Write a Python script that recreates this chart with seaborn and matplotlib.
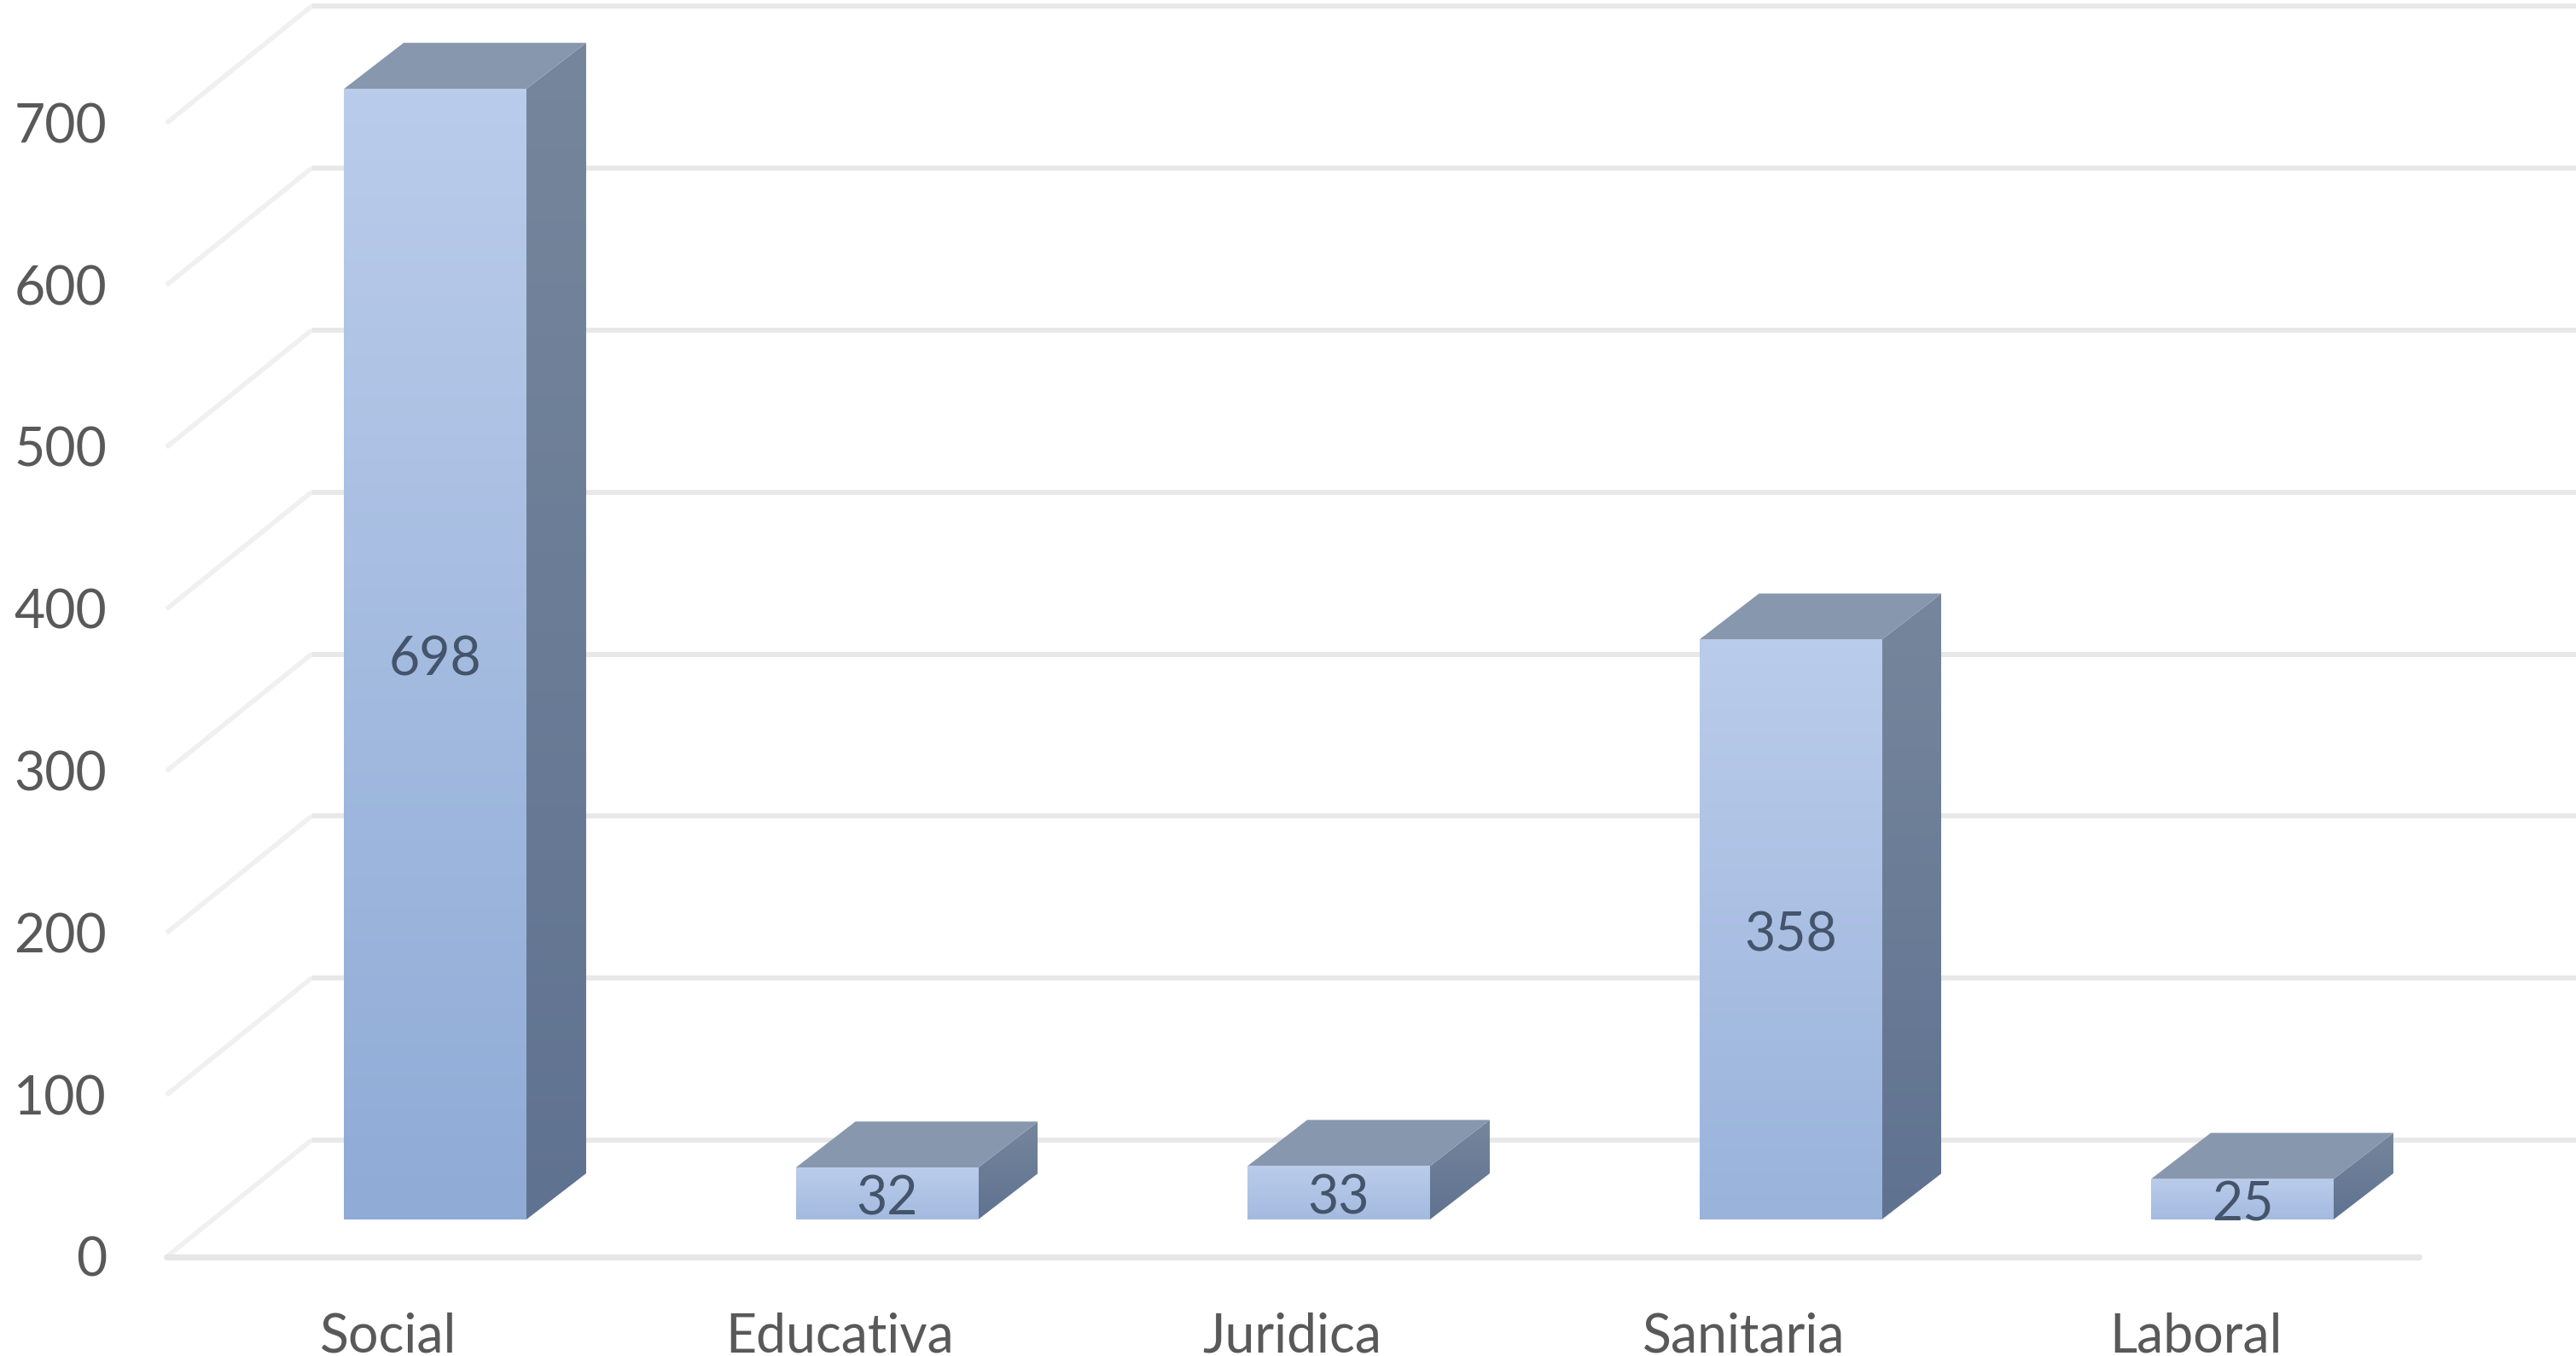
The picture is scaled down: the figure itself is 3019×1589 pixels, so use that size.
import matplotlib
matplotlib.use('Agg')
import matplotlib.pyplot as plt
import numpy as np
import pandas as pd
import seaborn as sns
from matplotlib.colors import LinearSegmentedColormap
from matplotlib.patches import Polygon

categories = ['Social', 'Educativa', 'Juridica', 'Sanitaria', 'Laboral']
values = [698, 32, 33, 358, 25]
y_ticks = [0, 100, 200, 300, 400, 500, 600, 700, 800]
y_tick_labels = ['0', '100', '200', '300', '400', '500', '600', '700']

sns.set_style('white')
plt.rcParams['font.family'] = ['Lato', 'DejaVu Sans']

W, H = 3019, 1589
fig = plt.figure(figsize=(W / 100, H / 100), dpi=100)
ax = fig.add_axes([0, 0, 1, 1])

# pixel sizes of the fake 3d look, converted to data units
px_x = 1 / 529.5
px_y = 1 / 1.898
xlim = (-510 * px_x, (W - 510) * px_x)
ylim = (-(H - 1429) * px_y, 1429 * px_y)

df = pd.DataFrame({'area': categories, 'n': values})
sns.barplot(data=df, x='area', y='n', color='#A5BCE0', width=0.404, saturation=1, ax=ax, zorder=3)


def gradient_fill(patch, top, bottom, zorder):
    # vertical gradient clipped to the given patch
    patch.set_facecolor('none')
    patch.set_edgecolor('none')
    if patch.axes is None:
        ax.add_patch(patch)
    if isinstance(patch, Polygon):
        pts = patch.get_xy()
        x0, x1, y0, y1 = pts[:, 0].min(), pts[:, 0].max(), pts[:, 1].min(), pts[:, 1].max()
    else:
        x0, x1 = patch.get_x(), patch.get_x() + patch.get_width()
        y0, y1 = patch.get_y(), patch.get_y() + patch.get_height()
    cmap = LinearSegmentedColormap.from_list('g', [top, bottom])
    img = ax.imshow(np.linspace(0, 1, 256).reshape(-1, 1), cmap=cmap, aspect='auto',
                    extent=(x0, x1, y0, y1), origin='upper', zorder=zorder)
    img.set_clip_path(patch)


# back wall starts higher than the bars, floor line sits lower
back_shift = 49
front_shift = -23.2
grid_left = 365 * px_x + xlim[0]
floor_left = 195 * px_x + xlim[0]
floor_right = 2835 * px_x + xlim[0]

for v in y_ticks:
    ax.plot([grid_left, xlim[1]], [v + back_shift] * 2, color='#E8E8E8', lw=4.2, zorder=1,
            solid_capstyle='butt')
    ax.plot([floor_left, grid_left], [v + front_shift, v + back_shift], color='#F0F0F0', lw=4,
            zorder=1, solid_capstyle='butt')
ax.plot([floor_left, floor_right], [front_shift, front_shift], color='#E6E6E6', lw=5, zorder=1)

depth_x = 70 * px_x
depth_y = 54 * px_y

container = ax.containers[0]
for bar, val in zip(container, values):
    x0 = bar.get_x()
    x1 = x0 + bar.get_width()
    side = Polygon([(x1, 0), (x1 + depth_x, depth_y), (x1 + depth_x, val + depth_y), (x1, val)])
    gradient_fill(side, '#76869C', '#5F7290', 2.5)
    top = Polygon([(x0, val), (x1, val), (x1 + depth_x, val + depth_y), (x0 + depth_x, val + depth_y)],
                  facecolor='#8797AE', edgecolor='none', zorder=2.6)
    ax.add_patch(top)
    # front colour depends on how tall the bar is
    share = val / 700
    low = np.array([0.56, 0.67, 0.84])
    high = np.array([0.73, 0.80, 0.92])
    gradient_fill(bar, high, low + (high - low) * (1 - share) * 0.5, 3.2)

labels = ax.bar_label(container, labels=[str(v) for v in values], label_type='center', fontsize=45,
                      color='#44546A', zorder=5)
for t in labels:
    t.xyann = (0, -5)

for v, label in zip(y_ticks, y_tick_labels):
    ax.text(125 * px_x + xlim[0], v + front_shift - 2.6, label, ha='right', va='center', fontsize=45,
            color='#595959')

for i, name in enumerate(categories):
    ax.text(i - 55 * px_x, ylim[0] + 2.5, name, ha='center', va='baseline', fontsize=45, color='#595959')

ax.set_xlim(xlim)
ax.set_ylim(ylim)
ax.set_axis_off()

fig.savefig('out.png', dpi=100, facecolor='white')
